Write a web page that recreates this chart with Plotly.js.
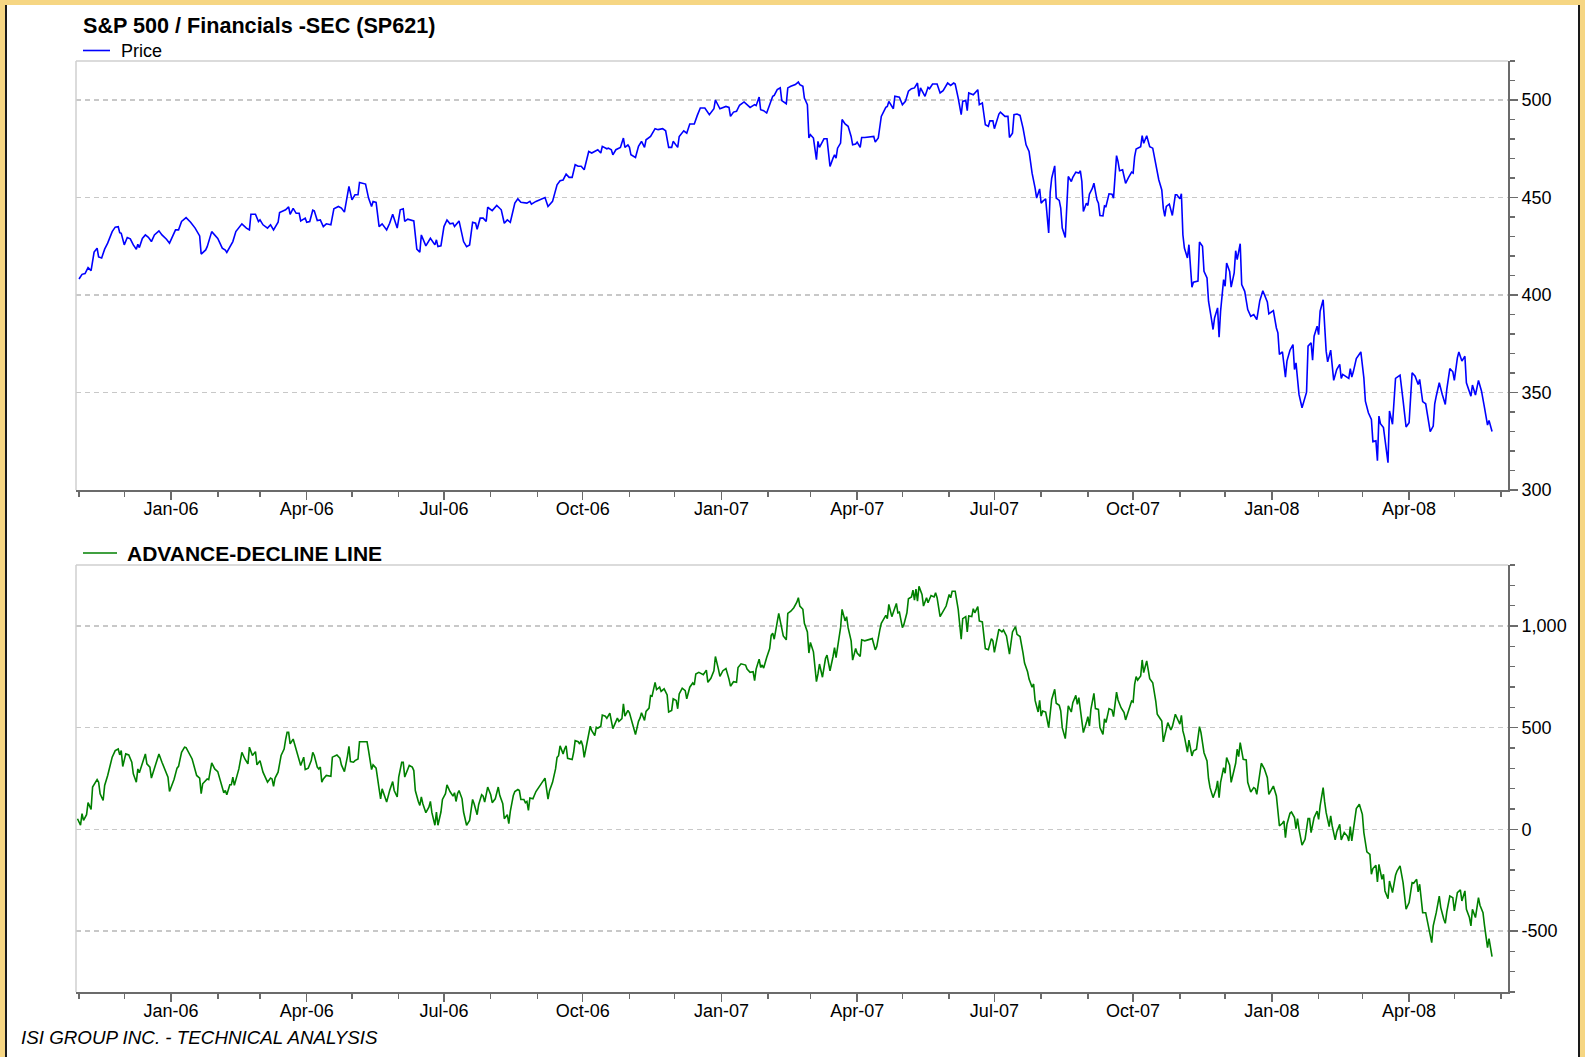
<!DOCTYPE html>
<html>
<head>
<meta charset="utf-8">
<script src="https://cdn.plot.ly/plotly-3.0.1.min.js"></script>
<style>
  html, body { margin: 0; padding: 0; width: 1585px; height: 1057px; overflow: hidden; background: #F6D683; }
  #frame { position: absolute; left: 5px; top: 5px; width: 1575px; height: 1052px; background: #ffffff;
           border-left: 2px solid #1a1a1a; border-right: 2px solid #1a1a1a; box-sizing: border-box; }
  #chart { position: absolute; left: 0; top: 0; width: 1585px; height: 1057px; }
</style>
</head>
<body>
<div id="frame"></div>
<div id="chart"></div>
<script>
// ---- data (day = calendar days after 2005-10-31) ----
const baseDate = '2005-10-31';
const chartTitle = 'S&amp;P 500 / Financials -SEC (SP621)';
const priceName = 'Price';
const adName = 'ADVANCE-DECLINE LINE';
const footerText = 'ISI GROUP INC. - TECHNICAL ANALYSIS';

const priceDay = [1,3,5,7,9,11,13,14,16,18,20,23,25,27,28,29,31,33,35,37,39,40,41,43,45,47,49,51,54,56,59,61,65,67,69,72,75,78,81,82,85,86,89,91,93,96,98,99,101,103,105,109,112,114,115,118,120,121,123,126,128,130,133,134,138,140,141,143,145,147,148,151,152,154,156,157,159,161,163,165,168,170,173,175,177,180,182,184,186,187,191,193,195,196,198,200,202,205,207,209,212,214,216,217,219,223,225,227,228,231,234,237,238,239,241,243,245,247,249,250,253,256,258,260,262,264,265,267,269,271,272,275,278,281,283,285,287,290,292,294,298,300,301,304,310,312,315,
318,320,322,324,326,328,330,332,334,336,339,341,343,345,347,348,351,352,354,355,357,360,362,363,365,366,367,370,372,374,376,377,380,383,385,388,390,392,394,395,398,399,402,404,406,409,411,413,416,419,422,423,426,430,432,433,435,437,439,442,446,449,450,452,453,455,457,459,461,462,464,466,467,470,471,473,476,478,479,481,482,484,485,486,488,490,491,492,495,497,499,501,502,503,504,506,507,509,511,513,514,516,517,519,520,522,526,528,529,531,533,536,537,538,541,542,545,547,549,551,553,555,557,558,559,562,564,565,567,570,572,574,577,579,581,582,584,586,587,589,590,591,594,597,598,600,602,604,605,607,608,611,612,615,617,618,620,621,623,625,627,629,631,633,
635,636,638,639,640,642,644,645,646,648,649,651,652,653,655,657,659,660,662,664,665,666,667,669,670,671,673,674,676,677,678,680,681,682,684,686,687,689,690,691,693,695,697,699,700,701,702,705,706,707,709,711,713,715,717,719,720,721,722,724,726,728,729,731,732,733,734,736,737,739,740,743,744,746,747,749,750,752,753,754,756,757,758,760,761,762,764,765,767,768,769,771,772,774,776,778,780,782,784,786,787,789,790,792,793,795,796,797,799,801,802,804,806,807,808,810,812,815,816,818,819,820,822,823,824,826,827,828,829,831,833,835,837,838,839,842,843,844,845,846,848,851,853,854,856,858,859,861,862,863,864,866,868,869,870,872,874,877,879,881,883,885,887,889,890,892,894,896,897,899,900,901,903,905,907,908,910,912,913,915,916,918,920,921,923,924,925,927,929,931,933,935,936,938];

const priceValue = [408.2,410.6,411,414,412.5,422,424,419.5,419,423.5,426.6,432.5,434.8,435,432,431.6,425.7,429.5,428.8,425.7,423.5,426,424.3,429,430.8,429.6,427.4,430.8,432.9,430.8,428.6,426.6,433.4,433.4,437.7,439.7,437.3,434.3,430.3,421,423.1,424.8,432.5,430.8,429,424,423,421.8,424.8,427.4,432.5,436.5,434.3,433.4,441.4,441.4,437.7,438.5,436,434.3,436,433.4,437.3,442.3,443.7,445.2,441.4,444.4,441.9,441.9,438,439.4,437.3,437.7,443.5,443.2,438.2,438.5,435.1,436.5,436,444.2,445.4,444.6,442.5,455.7,448.8,451.4,451.4,457.7,456.9,449.7,445.4,448,447.5,435.1,436.5,433.4,436.8,441.4,434.3,443.7,444.2,437.7,438.9,438,423.5,421.9,430.8,425.2,429.1,425.7,428.3,424.8,425.2,435.1,438.5,436.5,436.8,435.1,438,427.4,424.8,425.7,437.3,436.8,433.7,439.4,439.4,437.7,445,443.3,445.9,443.7,436.8,438.5,437.3,447.1,449.3,447.6,447.1,448,446.6,448,450,445.4,448,
456.5,458.6,459,462,460.3,460.3,466.8,466,466,464.2,473.6,472.8,473.6,474.5,472.8,476.2,475,475.3,474.5,471.9,474.5,475.7,480.5,475.7,477,475.7,471.9,470.5,476.2,478.8,475.7,479.6,481.3,485.3,484.8,485.3,484.2,475.7,475.7,478.8,475.7,481.3,484.2,483,487.7,487.7,492.1,495.9,495.9,492.5,495.5,500,495.5,496.7,496.2,491.6,493.8,494.2,497.3,499,496.2,497.6,497.1,501.5,495,494.5,493.3,498,501.9,502.4,505.3,506.2,499.7,498.1,506.2,507,507.9,509.2,507.9,507,501,497.6,480.5,482.2,480.5,469.4,478.8,475.7,480.1,480.1,465.9,470.2,471.9,470.2,475.3,477.9,490,487.7,486.5,481.3,477,477.4,478.4,475.7,480.8,480.8,481.3,481.3,478.4,480.5,491.6,496.2,496.7,499.3,495.5,501.9,501.4,497.6,499.3,504.5,505.8,506.2,508.7,501.9,506.2,501.9,506.5,505.8,508.2,508.2,503.6,504.8,508.7,507.5,508.7,508.2,501,492.5,499.3,499.8,494.5,503.6,502.7,505.3,497.6,498.5,487.3,486.5,489.3,489.3,485.3,492.8,493.8,491.6,491.6,480.8,483,492.5,492.8,492.1,485.6,477,473.6,462.5,
454.8,449.7,454.4,447.1,448,449.3,431.8,452.6,459.9,466.2,449.7,448.5,444.6,434.3,429.5,460.8,458.2,460.4,463,462.5,463.7,458.2,442.8,447.1,445.9,451.7,454.8,457.3,448.8,447.1,440.8,440.6,445.7,445.4,451.9,451.7,449.7,471.5,468.4,463.7,464.2,457.3,460.3,463,462.5,471,474.9,476.1,481.7,477.8,481.7,476.1,475.3,467.6,459.1,453.9,444.6,440.3,445.4,446.6,440.8,451.4,451.4,449.3,451.9,430.9,424.1,419,425.8,404,406.6,407.1,427.2,425,412.1,408.7,396.8,387.4,382.3,388.2,393.4,378.4,391.7,407.9,404.5,416.4,412.1,404,411.3,422.7,418.1,426.3,405.3,401.9,392.5,389.1,390,387.4,397.1,402.2,400.2,396.4,390.3,391.4,392,383.1,380.6,369.5,370.8,357.9,366.1,371.7,374.6,361.8,365.2,349,342.2,350.2,373.8,375.5,366.6,378.9,384,379.7,391.7,397.6,383.1,371.2,365.7,371.7,356.2,361.8,364.4,357.2,359.3,357.9,357.2,362.3,357.9,360.6,367.4,370.8,357.5,345.6,339.6,336.2,324.8,325.2,315,337.9,334,332,318.7,314,340.5,333.7,357.2,358.9,346,332.3,334.5,360.1,358.4,354.1,356.7,345.3,344.2,335.7,329.9,332.8,344.2,348.1,355,349,343.9,351.6,362.3,360.6,356.2,367.8,370.8,366.1,368.6,355,350.8,348.1,353.8,348.7,356.2,350.8,342.2,333.3,335.7,330];

const adDay = [0,1,2,3,4,6,7,9,10,13,14,15,17,18,20,23,25,27,28,29,30,32,34,36,37,39,40,41,43,45,46,48,49,51,53,54,56,58,60,61,64,66,67,69,71,72,75,76,79,81,82,83,86,87,89,91,93,96,97,98,99,101,102,103,104,107,109,111,113,114,116,118,119,121,123,126,128,129,130,131,133,135,137,138,139,140,141,143,145,146,148,150,151,153,155,156,157,159,160,161,162,163,165,168,169,172,174,175,177,179,180,181,183,184,186,187,190,192,193,195,196,198,200,201,202,205,207,209,210,212,213,215,216,217,220,222,223,224,226,227,228,229,231,233,234,235,237,238,239,241,242,244,245,247,249,250,251,252,253,255,256,258,260,262,263,265,266,268,269,270,272,274,275,277,279,280,282,283,285,286,287,289,290,292,293,294,296,297,298,299,300,302,304,307,309,310,
312,313,315,317,318,319,320,322,323,324,325,326,328,329,330,332,333,334,335,336,337,339,340,341,343,344,345,347,348,350,351,353,
355,358,359,361,362,363,365,366,368,370,372,373,374,376,377,379,380,381,383,384,386,387,389,391,392,394,395,397,398,399,401,403,404,406,408,409,410,412,415,417,418,420,422,423,425,426,428,430,432,433,435,437,438,440,443,444,446,448,449,450,452,453,454,455,457,459,460,461,462,464,465,466,468,470,471,473,475,477,478,479,481,482,484,485,486,488,490,491,492,494,495,496,497,498,499,501,502,503,505,506,507,509,510,511,513,514,516,517,519,520,522,526,527,529,530,532,533,536,537,538,540,541,543,544,545,547,548,550,551,553,554,555,556,557,558,560,561,563,564,566,568,569,570,572,574,576,578,579,580,582,584,585,586,587,589,590,591,593,594,595,597,598,600,602,604,606,607,608,610,611,613,614,616,617,618,620,622,623,625,627,628,630,631,633,634,635,637,638,
639,640,642,644,645,646,648,649,651,652,653,655,656,657,659,660,662,663,664,665,667,669,670,671,672,674,675,677,678,680,681,682,684,686,687,689,690,692,694,695,697,699,700,701,702,703,705,706,707,709,711,713,715,716,718,719,720,722,723,725,726,728,730,731,732,733,734,736,737,739,740,742,744,745,747,749,750,751,753,755,756,757,758,760,761,762,764,765,768,769,770,771,773,775,776,778,780,781,782,784,785,787,789,790,792,793,795,796,797,799,800,801,802,804,805,807,808,809,810,812,814,816,817,818,820,822,823,824,826,827,828,830,831,832,834,835,837,838,840,842,843,844,845,847,848,850,852,853,855,857,858,859,861,862,863,865,866,867,869,870,872,874,875,877,879,881,883,885,886,888,889,890,892,894,896,898,899,901,903,904,906,907,908,910,912,913,915,917,918,920,921,923,924,925,927,929,930,932,933,935,936,938];

const adValue = [52,39,20,77,44,72,131,98,208,245,232,175,142,216,265,355,387,395,366,387,309,371,366,330,273,232,297,278,330,371,322,306,252,301,338,371,330,289,257,186,245,301,310,379,404,402,358,346,265,252,175,224,248,245,327,297,284,199,180,191,170,219,219,257,216,297,379,346,322,404,363,382,317,338,281,232,252,248,212,252,281,363,395,441,477,477,420,444,392,376,314,355,294,301,338,379,363,306,297,306,232,248,265,261,355,366,350,317,284,359,408,333,330,338,346,431,431,431,387,294,317,301,199,150,199,134,191,235,191,159,257,330,330,257,314,306,289,191,137,118,159,126,82,109,137,82,20,85,20,85,147,175,219,186,163,180,137,175,191,150,85,20,44,147,126,72,121,170,163,134,208,170,131,150,208,167,126,52,72,28,88,167,186,196,191,147,147,131,137,93,154,150,186,219,235,252,
149,190,231,297,354,362,411,371,395,411,349,346,343,379,436,431,420,436,411,354,395,477,507,485,461,502,497,507,562,556,546,572,
495,547,531,544,617,557,585,573,520,466,531,547,573,536,580,596,658,655,723,687,699,678,691,661,577,585,642,634,593,666,694,682,642,699,720,710,764,772,761,783,723,743,780,850,788,752,780,791,739,704,726,723,796,814,808,788,772,775,731,788,837,796,808,793,845,889,954,964,935,1013,1062,1025,951,932,1062,1073,1090,1117,1139,1098,1082,1013,971,867,919,873,726,764,813,748,808,840,857,821,780,850,894,845,935,992,1082,1025,1046,992,927,832,889,867,850,932,927,935,938,883,899,980,1013,1052,1036,1106,1046,1068,1111,1065,1068,992,1008,1065,1134,1143,1176,1127,1182,1122,1195,1155,1098,1139,1114,1150,1143,1163,1139,1046,1073,1098,1155,1139,1171,1171,1082,992,935,1036,1046,971,1049,1046,1085,1065,1095,1025,1020,889,883,938,927,870,948,984,971,980,951,899,862,971,997,959,948,867,818,775,739,699,715,634,577,634,
557,582,577,500,590,639,689,620,610,582,500,446,525,607,577,623,659,615,648,587,476,525,554,508,590,669,594,590,500,467,544,525,594,587,554,675,636,598,574,538,582,631,626,713,751,734,754,833,771,828,741,721,631,566,544,533,430,505,525,489,505,566,538,517,561,484,456,380,439,361,385,394,505,476,377,336,249,205,156,197,238,156,231,303,276,353,315,231,325,394,358,426,344,341,231,184,205,200,172,262,325,298,254,172,197,213,164,102,17,30,41,-41,25,79,85,58,3,53,0,-78,-49,53,53,-16,58,90,49,115,205,135,82,13,66,17,-52,-13,25,-52,-16,-33,-57,13,-57,49,102,123,74,-16,-111,-123,-221,-193,-177,-259,-172,-246,-221,-303,-341,-254,-311,-226,-205,-180,-262,-393,-360,-262,-265,-246,-308,-270,-410,-410,-492,-557,-475,-410,-328,-385,-442,-462,-406,-328,-336,-401,-311,-298,-352,-303,-393,-434,-475,-393,-434,-336,-373,-410,-472,-582,-537,-626];

const xRange = ['2005-10-30', '2008-06-05 14:00'];
const priceRange = [300, 520];
const priceTicks = [300, 350, 400, 450, 500];
const adRange = [-800, 1300];
const adTicks = [-500, 0, 500, 1000];
const adTickText = ['-500', '0', '500', '1,000'];

// ---- helpers ----
const base = Date.UTC(2005, 9, 31);
const toDate = d => new Date(base + d * 86400000).toISOString().slice(0, 10);
const priceX = priceDay.map(toDate);
const adX = adDay.map(toDate);

const FONT = 'Arial, "Liberation Sans", Helvetica, sans-serif';
const axisGray = '#6b6b6b';
const gridGray = '#c8c8c8';

function xAxis(anchor) {
  return {
    type: 'date', range: xRange, anchor: anchor,
    tickformat: '%b-%y', tick0: '2006-01-01', dtick: 'M3',
    ticks: 'outside', ticklen: 8, tickwidth: 1.5, tickcolor: axisGray,
    ticklabelstandoff: -7,
    showline: true, linecolor: axisGray, linewidth: 2,
    showgrid: false, zeroline: false,
    tickfont: {family: FONT, size: 18, color: '#000'},
    minor: {tick0: '2005-11-01', dtick: 'M1', ticks: 'outside', ticklen: 5, tickwidth: 1.5, tickcolor: axisGray, showgrid: false}
  };
}
function yAxis(domain, range, tickvals, ticktext, minorDtick, anchor) {
  const a = {
    domain: domain, range: range, side: 'right', anchor: anchor,
    tickmode: 'array', tickvals: tickvals,
    ticks: 'outside', ticklen: 8, tickwidth: 1.5, tickcolor: axisGray,
    showline: true, linecolor: axisGray, linewidth: 2,
    showgrid: true, gridcolor: gridGray, gridwidth: 1.5, griddash: '5px,4px',
    zeroline: false,
    tickfont: {family: FONT, size: 18, color: '#000'},
    minor: {tick0: range[0], dtick: minorDtick, ticks: 'outside', ticklen: 5, tickwidth: 1.5, tickcolor: axisGray, showgrid: false}
  };
  if (ticktext) a.ticktext = ticktext;
  return a;
}

const W = 1585, H = 1057, ML = 76, MR = 77, MT = 61, MB = 65;
const PW = W - ML - MR, PH = H - MT - MB;
const px = x => (x - ML) / PW;
const py = y => (H - MB - y) / PH;

const traces = [
  {x: priceX, y: priceValue, type: 'scatter', mode: 'lines', name: priceName, xaxis: 'x', yaxis: 'y',
   line: {color: '#0000ff', width: 1.6}},
  {x: adX, y: adValue, type: 'scatter', mode: 'lines', name: adName, xaxis: 'x2', yaxis: 'y2',
   line: {color: '#008000', width: 1.6}}
];

const frameLine = (xr, yr) => [
  {type: 'line', xref: xr + ' domain', yref: yr + ' domain', x0: 0, x1: 1, y0: 1, y1: 1, line: {color: '#cfcfcf', width: 1.5}},
  {type: 'line', xref: xr + ' domain', yref: yr + ' domain', x0: 0, x1: 0, y0: 0, y1: 1, line: {color: '#cfcfcf', width: 1.5}}
];

const layout = {
  width: W, height: H,
  margin: {l: ML, r: MR, t: MT, b: MB, pad: 0},
  paper_bgcolor: 'rgba(0,0,0,0)', plot_bgcolor: '#ffffff',
  showlegend: false,
  font: {family: FONT, size: 18, color: '#000'},
  xaxis: xAxis('y'),
  xaxis2: xAxis('y2'),
  yaxis: yAxis([py(490), 1], priceRange, priceTicks, null, 10, 'x'),
  yaxis2: yAxis([0, py(565)], adRange, adTicks, adTickText, 100, 'x2'),
  shapes: [
    ...frameLine('x', 'y'), ...frameLine('x2', 'y2'),
    {type: 'line', xref: 'paper', yref: 'paper', x0: px(83), x1: px(110), y0: py(50.5), y1: py(50.5), line: {color: '#0000ff', width: 1.6}},
    {type: 'line', xref: 'paper', yref: 'paper', x0: px(83), x1: px(117), y0: py(553), y1: py(553), line: {color: '#008000', width: 1.6}}
  ],
  annotations: [
    {xref: 'paper', yref: 'paper', x: px(81), y: py(25.5), xanchor: 'left', yanchor: 'middle', showarrow: false,
     text: '<b>' + chartTitle + '</b>', font: {family: FONT, size: 21.6, color: '#000'}},
    {xref: 'paper', yref: 'paper', x: px(119), y: py(51), xanchor: 'left', yanchor: 'middle', showarrow: false,
     text: priceName, font: {family: FONT, size: 18, color: '#000'}},
    {xref: 'paper', yref: 'paper', x: px(125), y: py(553.5), xanchor: 'left', yanchor: 'middle', showarrow: false,
     text: '<b>' + adName + '</b>', font: {family: FONT, size: 21, color: '#000'}},
    {xref: 'paper', yref: 'paper', x: px(19), y: py(1037.5), xanchor: 'left', yanchor: 'middle', showarrow: false,
     text: '<i>' + footerText + '</i>', font: {family: FONT, size: 18.8, color: '#000'}}
  ]
};

Plotly.newPlot('chart', traces, layout, {displayModeBar: false, staticPlot: true});
</script>
</body>
</html>
